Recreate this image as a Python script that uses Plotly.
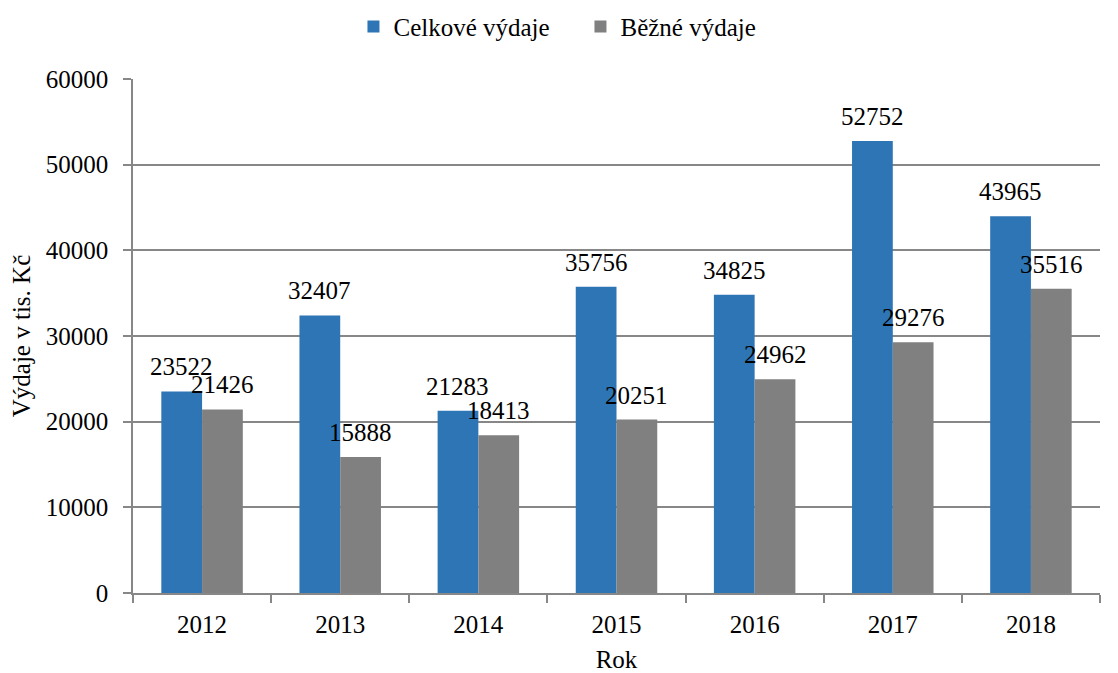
import plotly.graph_objects as go

years = ["2012", "2013", "2014", "2015", "2016", "2017", "2018"]
celkove = [23522, 32407, 21283, 35756, 34825, 52752, 43965]
bezne = [21426, 15888, 18413, 20251, 24962, 29276, 35516]
y_ticks = [0, 10000, 20000, 30000, 40000, 50000, 60000]

FONT = "'Times New Roman', 'Liberation Serif', 'DejaVu Serif', serif"
BLUE = "#2E75B6"
GRAY = "#808080"
AXIS = "#878787"
FS = 25

fig = go.Figure()
fig.add_trace(go.Bar(name="Celkové výdaje", x=years, y=celkove,
                     marker=dict(color=BLUE, line=dict(width=0))))
fig.add_trace(go.Bar(name="Běžné výdaje", x=years, y=bezne,
                     marker=dict(color=GRAY, line=dict(width=0))))

half = 0.1476
for series, shift in ((celkove, -half), (bezne, half)):
    for i, v in enumerate(series):
        fig.add_annotation(x=i + shift, y=v, xref="x", yref="y", text=str(v),
                           showarrow=False, yanchor="bottom", yshift=9,
                           font=dict(family=FONT, size=FS, color="black"))

fig.update_layout(
    width=1118, height=673,
    paper_bgcolor="white", plot_bgcolor="white",
    margin=dict(l=125, r=26, t=71, b=88, autoexpand=False),
    barmode="group", bargap=0.41, bargroupgap=0,
    font=dict(family=FONT, size=FS, color="black"),
    legend=dict(orientation="h", xref="container", x=0.309, xanchor="left",
                yref="container", y=0.972, yanchor="middle",
                entrywidth=182, entrywidthmode="pixels",
                font=dict(family=FONT, size=FS), traceorder="normal"),
    showlegend=True,
)
fig.update_xaxes(type="category", showline=True, linecolor=AXIS, linewidth=1.5,
                 ticks="outside", tickson="boundaries", ticklen=8, tickcolor=AXIS,
                 tickwidth=1.5, showgrid=False, automargin=False, ticklabelstandoff=8,
                 title=dict(text="Rok", font=dict(family=FONT, size=FS), standoff=14),
                 tickfont=dict(family=FONT, size=FS))
fig.update_yaxes(range=[0, 60000], tickvals=y_ticks, showline=True, linecolor=AXIS,
                 linewidth=1.5, ticks="outside", ticklen=8, tickcolor=AXIS, tickwidth=1.5,
                 showgrid=True, gridcolor=AXIS, gridwidth=1.5, zeroline=False,
                 tickformat="d", automargin=False, ticklabelstandoff=10,
                 title=dict(text="Výdaje v tis. Kč", font=dict(family=FONT, size=FS), standoff=20),
                 tickfont=dict(family=FONT, size=FS))

fig.write_html("out.html")
